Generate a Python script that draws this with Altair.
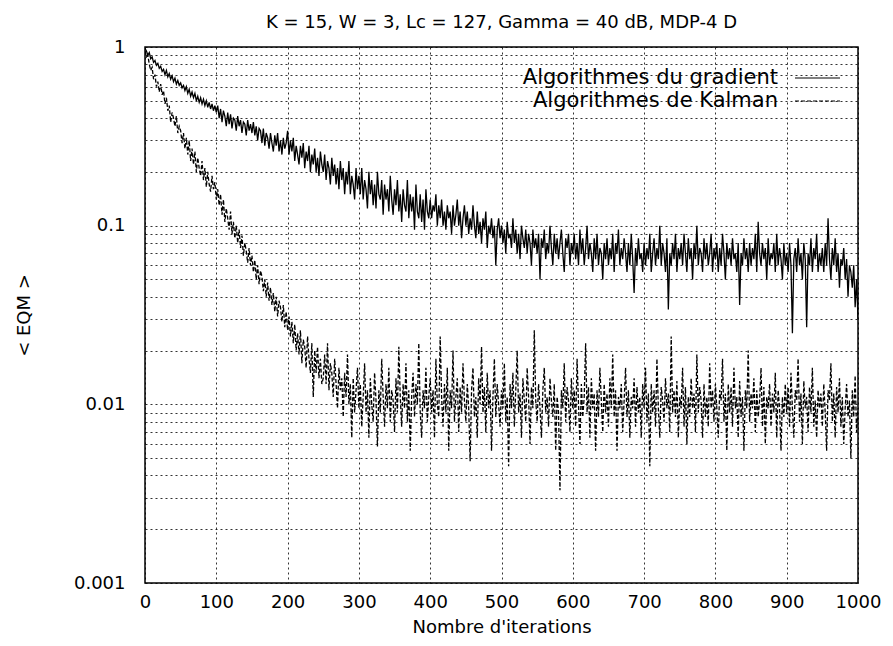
import altair as alt
import pandas as pd

# iterations sampled every 2 steps (0..1000)
iterations = list(range(0, 1001, 2))

gradient_blocks = [
    [0.98, 0.95, 0.90, 0.93, 0.86, 0.88, 0.82, 0.84, 0.79, 0.81, 0.76, 0.78, 0.73, 0.75, 0.70, 0.74, 0.68, 0.71, 0.66, 0.69, 0.64, 0.67, 0.62, 0.65, 0.61],
    [0.63, 0.59, 0.61, 0.57, 0.60, 0.55, 0.58, 0.53, 0.56, 0.52, 0.55, 0.50, 0.53, 0.49, 0.52, 0.48, 0.51, 0.47, 0.50, 0.46, 0.49, 0.45, 0.48, 0.44, 0.47],
    [0.43, 0.47, 0.40, 0.45, 0.38, 0.44, 0.41, 0.36, 0.43, 0.37, 0.42, 0.35, 0.40, 0.39, 0.34, 0.41, 0.36, 0.39, 0.33, 0.38, 0.37, 0.32, 0.39, 0.34, 0.37],
    [0.33, 0.38, 0.32, 0.36, 0.30, 0.35, 0.34, 0.29, 0.35, 0.28, 0.33, 0.31, 0.27, 0.33, 0.29, 0.26, 0.32, 0.28, 0.33, 0.26, 0.30, 0.25, 0.31, 0.27, 0.29],
    [0.34, 0.25, 0.30, 0.26, 0.31, 0.23, 0.28, 0.25, 0.22, 0.28, 0.24, 0.29, 0.21, 0.26, 0.23, 0.28, 0.20, 0.25, 0.22, 0.27, 0.20, 0.24, 0.19, 0.26, 0.22],
    [0.20, 0.25, 0.18, 0.23, 0.21, 0.17, 0.24, 0.19, 0.22, 0.17, 0.21, 0.16, 0.23, 0.18, 0.21, 0.15, 0.20, 0.17, 0.23, 0.15, 0.19, 0.17, 0.14, 0.21, 0.16],
    [0.19, 0.15, 0.21, 0.14, 0.18, 0.16, 0.125, 0.20, 0.15, 0.18, 0.13, 0.17, 0.125, 0.20, 0.15, 0.14, 0.18, 0.115, 0.17, 0.14, 0.16, 0.12, 0.19, 0.14, 0.115],
    [0.16, 0.13, 0.18, 0.12, 0.15, 0.105, 0.16, 0.13, 0.12, 0.18, 0.11, 0.15, 0.12, 0.145, 0.095, 0.17, 0.12, 0.11, 0.15, 0.105, 0.14, 0.095, 0.16, 0.12, 0.11],
    [0.14, 0.11, 0.13, 0.12, 0.15, 0.10, 0.13, 0.11, 0.14, 0.10, 0.12, 0.095, 0.13, 0.11, 0.12, 0.09, 0.13, 0.10, 0.115, 0.14, 0.10, 0.12, 0.085, 0.11, 0.13],
    [0.10, 0.12, 0.09, 0.11, 0.095, 0.13, 0.10, 0.085, 0.12, 0.09, 0.105, 0.08, 0.11, 0.095, 0.12, 0.075, 0.10, 0.09, 0.11, 0.085, 0.10, 0.06, 0.095, 0.11, 0.085],
    [0.10, 0.08, 0.095, 0.07, 0.105, 0.085, 0.09, 0.075, 0.11, 0.08, 0.095, 0.07, 0.09, 0.065, 0.10, 0.085, 0.075, 0.095, 0.07, 0.09, 0.08, 0.06, 0.095, 0.075, 0.085],
    [0.07, 0.09, 0.05, 0.085, 0.075, 0.095, 0.065, 0.08, 0.07, 0.10, 0.075, 0.06, 0.09, 0.07, 0.085, 0.065, 0.08, 0.095, 0.07, 0.055, 0.085, 0.075, 0.09, 0.06, 0.08],
    [0.07, 0.09, 0.065, 0.08, 0.06, 0.095, 0.07, 0.085, 0.06, 0.075, 0.10, 0.065, 0.08, 0.07, 0.055, 0.085, 0.065, 0.09, 0.06, 0.075, 0.07, 0.05, 0.08, 0.065, 0.085],
    [0.06, 0.075, 0.065, 0.09, 0.055, 0.08, 0.07, 0.095, 0.06, 0.075, 0.065, 0.085, 0.07, 0.055, 0.08, 0.06, 0.09, 0.065, 0.042, 0.075, 0.06, 0.085, 0.065, 0.07, 0.055],
    [0.08, 0.06, 0.075, 0.065, 0.09, 0.055, 0.07, 0.085, 0.06, 0.075, 0.065, 0.10, 0.06, 0.08, 0.07, 0.055, 0.085, 0.034, 0.07, 0.06, 0.08, 0.065, 0.09, 0.055, 0.075],
    [0.065, 0.08, 0.06, 0.09, 0.07, 0.055, 0.085, 0.065, 0.075, 0.05, 0.08, 0.065, 0.10, 0.06, 0.075, 0.07, 0.055, 0.085, 0.065, 0.08, 0.06, 0.07, 0.09, 0.055, 0.075],
    [0.065, 0.08, 0.055, 0.075, 0.06, 0.09, 0.07, 0.05, 0.08, 0.065, 0.075, 0.06, 0.085, 0.065, 0.07, 0.055, 0.08, 0.036, 0.07, 0.06, 0.085, 0.065, 0.075, 0.055, 0.08],
    [0.06, 0.075, 0.065, 0.09, 0.055, 0.105, 0.07, 0.06, 0.08, 0.065, 0.075, 0.05, 0.085, 0.06, 0.07, 0.065, 0.08, 0.055, 0.09, 0.06, 0.075, 0.065, 0.05, 0.08, 0.06],
    [0.07, 0.055, 0.08, 0.06, 0.025, 0.065, 0.075, 0.055, 0.085, 0.06, 0.07, 0.05, 0.08, 0.065, 0.027, 0.07, 0.06, 0.085, 0.055, 0.075, 0.065, 0.09, 0.055, 0.07, 0.06],
    [0.075, 0.055, 0.08, 0.06, 0.11, 0.065, 0.05, 0.075, 0.06, 0.085, 0.055, 0.07, 0.045, 0.065, 0.06, 0.075, 0.05, 0.065, 0.04, 0.06, 0.055, 0.045, 0.06, 0.035, 0.05],
    [0.03],
]

kalman_blocks = [
    [0.95, 0.88, 0.90, 0.80, 0.74, 0.77, 0.66, 0.70, 0.60, 0.64, 0.56, 0.62, 0.54, 0.57, 0.48, 0.52, 0.44, 0.47, 0.38, 0.43, 0.40, 0.36, 0.41, 0.33, 0.36],
    [0.34, 0.29, 0.33, 0.27, 0.31, 0.25, 0.30, 0.23, 0.27, 0.22, 0.26, 0.20, 0.24, 0.21, 0.19, 0.23, 0.18, 0.21, 0.165, 0.20, 0.17, 0.155, 0.19, 0.16, 0.175],
    [0.14, 0.16, 0.13, 0.15, 0.115, 0.14, 0.105, 0.125, 0.11, 0.095, 0.12, 0.09, 0.105, 0.085, 0.10, 0.08, 0.095, 0.075, 0.088, 0.068, 0.08, 0.072, 0.062, 0.075, 0.06],
    [0.068, 0.055, 0.064, 0.05, 0.06, 0.047, 0.056, 0.052, 0.043, 0.05, 0.04, 0.048, 0.038, 0.045, 0.036, 0.042, 0.033, 0.04, 0.031, 0.038, 0.035, 0.029, 0.036, 0.027, 0.033],
    [0.026, 0.031, 0.024, 0.029, 0.022, 0.028, 0.02, 0.025, 0.019, 0.026, 0.017, 0.023, 0.021, 0.016, 0.024, 0.018, 0.015, 0.022, 0.011, 0.02, 0.015, 0.021, 0.014, 0.018, 0.013],
    [0.014, 0.019, 0.013, 0.022, 0.012, 0.017, 0.015, 0.011, 0.018, 0.013, 0.0095, 0.016, 0.012, 0.014, 0.0085, 0.015, 0.011, 0.019, 0.01, 0.013, 0.0065, 0.014, 0.009, 0.012, 0.016],
    [0.0095, 0.013, 0.0075, 0.011, 0.017, 0.009, 0.012, 0.0065, 0.014, 0.01, 0.008, 0.015, 0.0105, 0.0058, 0.012, 0.009, 0.018, 0.011, 0.0075, 0.013, 0.0095, 0.016, 0.008, 0.012, 0.0105],
    [0.007, 0.014, 0.009, 0.021, 0.011, 0.0075, 0.013, 0.0095, 0.017, 0.008, 0.012, 0.0055, 0.011, 0.015, 0.0085, 0.013, 0.01, 0.022, 0.009, 0.0065, 0.012, 0.0095, 0.016, 0.008, 0.011],
    [0.014, 0.009, 0.012, 0.0065, 0.018, 0.01, 0.0085, 0.024, 0.011, 0.0075, 0.013, 0.009, 0.016, 0.0055, 0.012, 0.0095, 0.02, 0.008, 0.011, 0.014, 0.007, 0.0125, 0.009, 0.017, 0.0105],
    [0.008, 0.013, 0.0095, 0.0048, 0.012, 0.016, 0.0085, 0.011, 0.0065, 0.014, 0.01, 0.021, 0.009, 0.0125, 0.007, 0.015, 0.0095, 0.012, 0.0055, 0.011, 0.018, 0.0085, 0.013, 0.01, 0.0075],
    [0.012, 0.0095, 0.017, 0.008, 0.011, 0.0045, 0.013, 0.0095, 0.015, 0.0075, 0.012, 0.02, 0.009, 0.0115, 0.0065, 0.014, 0.0105, 0.008, 0.016, 0.011, 0.006, 0.0125, 0.0095, 0.026, 0.0105],
    [0.008, 0.013, 0.0095, 0.0065, 0.012, 0.016, 0.009, 0.011, 0.0075, 0.014, 0.0105, 0.0085, 0.013, 0.0055, 0.011, 0.009, 0.0033, 0.012, 0.0095, 0.017, 0.008, 0.0125, 0.0105, 0.007, 0.014],
    [0.0095, 0.012, 0.0075, 0.018, 0.01, 0.006, 0.013, 0.0085, 0.011, 0.022, 0.009, 0.0125, 0.0065, 0.014, 0.0095, 0.0115, 0.0055, 0.012, 0.0085, 0.016, 0.0105, 0.007, 0.013, 0.009, 0.0115],
    [0.0075, 0.014, 0.0095, 0.019, 0.0085, 0.012, 0.0055, 0.011, 0.0095, 0.013, 0.007, 0.0105, 0.016, 0.0085, 0.012, 0.0065, 0.011, 0.0095, 0.014, 0.0075, 0.0125, 0.009, 0.011, 0.0065, 0.013],
    [0.0095, 0.016, 0.008, 0.0115, 0.0045, 0.013, 0.009, 0.012, 0.0075, 0.018, 0.0095, 0.0065, 0.0125, 0.0105, 0.008, 0.014, 0.0095, 0.0115, 0.007, 0.024, 0.009, 0.012, 0.0085, 0.0135, 0.0065],
    [0.011, 0.0095, 0.016, 0.0075, 0.0125, 0.006, 0.011, 0.0085, 0.014, 0.0095, 0.0115, 0.007, 0.019, 0.009, 0.0125, 0.0105, 0.0065, 0.013, 0.0085, 0.011, 0.0075, 0.017, 0.0095, 0.012, 0.008],
    [0.013, 0.0095, 0.0065, 0.012, 0.0105, 0.018, 0.008, 0.0115, 0.0055, 0.013, 0.009, 0.0125, 0.0075, 0.016, 0.0095, 0.011, 0.0065, 0.0135, 0.0085, 0.011, 0.0055, 0.012, 0.0095, 0.02, 0.008],
    [0.0115, 0.0095, 0.014, 0.007, 0.012, 0.0085, 0.0105, 0.016, 0.0075, 0.0125, 0.006, 0.011, 0.0095, 0.013, 0.0075, 0.0115, 0.009, 0.015, 0.0065, 0.012, 0.0095, 0.0055, 0.011, 0.0085, 0.013],
    [0.009, 0.0125, 0.0075, 0.015, 0.0095, 0.0065, 0.012, 0.0105, 0.018, 0.008, 0.0115, 0.006, 0.0135, 0.0095, 0.011, 0.007, 0.0125, 0.009, 0.016, 0.0075, 0.0105, 0.0065, 0.012, 0.0095, 0.0115],
    [0.0075, 0.013, 0.009, 0.0055, 0.012, 0.0105, 0.017, 0.008, 0.0115, 0.0065, 0.0125, 0.009, 0.014, 0.0075, 0.011, 0.006, 0.0095, 0.013, 0.0085, 0.0105, 0.005, 0.012, 0.0085, 0.0145, 0.007],
    [0.0095],
]

for name, blocks in (("gradient", gradient_blocks), ("kalman", kalman_blocks)):
    for i, b in enumerate(blocks[:-1]):
        if len(b) != 25:
            raise SystemExit(f"{name} block {i} has {len(b)} values")

gradient = [v for b in gradient_blocks for v in b]
kalman = [v for b in kalman_blocks for v in b]

series_names = ["Algorithmes du gradient", "Algorithmes de Kalman"]
x_ticks = list(range(0, 1001, 100))
y_ticks = [round(m * 10.0 ** e, 6) for e in (-3, -2, -1) for m in range(1, 10)] + [1.0]
title_text = "K = 15, W = 3, Lc = 127, Gamma = 40 dB, MDP-4 D"

FONT = "DejaVu Sans"
FS = 18

df = pd.concat([
    pd.DataFrame({"it": iterations, "eqm": gradient, "serie": series_names[0]}),
    pd.DataFrame({"it": iterations, "eqm": kalman, "serie": series_names[1]}),
])

W, H = 713, 536

lines = alt.Chart(df).mark_line(color="black", strokeWidth=1.3, clip=True).encode(
    x=alt.X("it:Q",
            scale=alt.Scale(domain=[0, 1000], nice=False, zero=False),
            axis=alt.Axis(values=x_ticks, title="Nombre d'iterations", format="d",
                          labelPadding=10, titlePadding=7, ticks=False, domain=False,
                          labelFlush=False, grid=True)),
    y=alt.Y("eqm:Q",
            scale=alt.Scale(type="log", domain=[0.001, 1], nice=False),
            axis=alt.Axis(values=y_ticks, title="< EQM >",
                          labelExpr="abs(log(datum.value)/LN10 - round(log(datum.value)/LN10)) < 0.001 ? format(datum.value, '~g') : ''",
                          labelPadding=20, titlePadding=40, ticks=False, domain=False,
                          labelFlush=False, grid=True)),
    strokeDash=alt.StrokeDash("serie:N",
                              scale=alt.Scale(domain=series_names, range=[[1, 0], [4, 2]]),
                              legend=None),
)

one = alt.Data(values=[{"k": 0}])
legend_y = [31, 54]
legend_dash = [[1, 0], [4, 2]]
legend_layers = []
for name, yy, dash in zip(series_names, legend_y, legend_dash):
    legend_layers.append(
        alt.Chart(one).mark_text(align="right", baseline="middle", font=FONT, fontSize=21,
                                 color="black", text=name).encode(x=alt.value(633), y=alt.value(yy))
    )
    legend_layers.append(
        alt.Chart(one).mark_rule(color="black", strokeWidth=1.2, strokeDash=dash).encode(
            x=alt.value(650), x2=alt.value(695), y=alt.value(yy))
    )

chart = alt.layer(lines, *legend_layers).properties(
    width=W, height=H,
    title=alt.TitleParams(title_text, font=FONT, fontSize=FS, fontWeight="normal",
                          anchor="middle", offset=6, color="black"),
    autosize=alt.AutoSizeParams(type="none"),
    padding={"left": 137, "top": 39, "right": 27, "bottom": 55},
).configure_view(
    stroke="black", strokeWidth=1.5
).configure_axis(
    labelFont=FONT, labelFontSize=FS, labelColor="black",
    titleFont=FONT, titleFontSize=FS, titleFontWeight="normal", titleColor="black",
    gridColor="black", gridDash=[2, 3], gridOpacity=0.8, gridWidth=1,
)

chart.save("out.html", embed_options={"renderer": "svg", "actions": False})
